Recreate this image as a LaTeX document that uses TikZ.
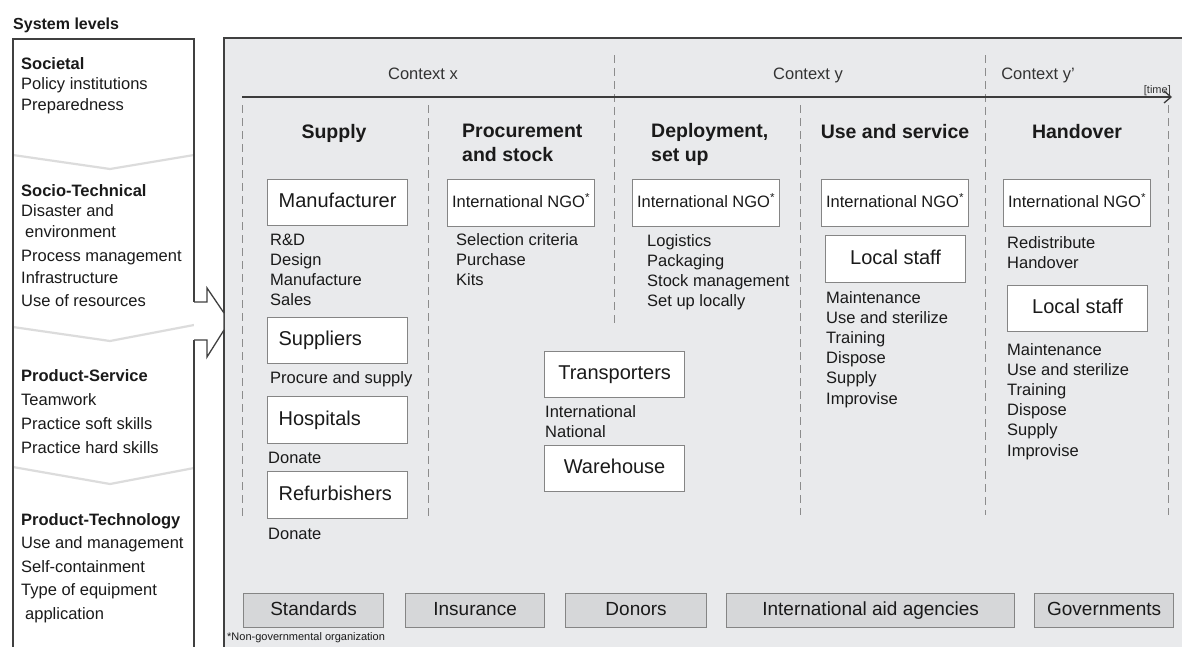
\documentclass[tikz,border=0pt]{standalone}
\usepackage{fontspec}
\setmainfont{Liberation Sans}
\usetikzlibrary{arrows.meta}
\definecolor{panelc}{HTML}{E9EAEC}
\definecolor{framec}{HTML}{404040}
\definecolor{boxc}{HTML}{858585}
\definecolor{gboxc}{HTML}{D6D7D9}
\definecolor{txt}{HTML}{1A1A1A}
\definecolor{ctxc}{HTML}{333333}
\definecolor{dashc}{HTML}{8C8C8C}
\definecolor{chevc}{HTML}{DCDCDC}
\definecolor{arrowc}{HTML}{3C3C3C}
\newcommand\ftBody{\fontsize{16.5}{20.2}\selectfont}
\newcommand\ftBox{\fontsize{20}{24}\selectfont}
\newcommand\ftHead{\fontsize{19.5}{24}\selectfont\bfseries}
\newcommand\ftBot{\fontsize{19}{22}\selectfont}
\tikzset{
  frame/.style={draw=framec, line width=1.3pt},
  wbox/.style={draw=boxc, fill=white, line width=1.2pt, inner sep=0pt, anchor=north west, font=\ftBox, text=txt, text height=14.5pt, text depth=4pt},
  lbox/.style={minimum height=46pt, text width=118pt, inner xsep=11pt, align=left},
  cbox/.style={minimum width=140pt, minimum height=46pt},
  ngo/.style={minimum width=147pt, minimum height=47pt, font=\ftBody, text height=12pt, text depth=3.5pt},
  gbox/.style={draw=boxc, fill=gboxc, line width=1.2pt, inner sep=0pt, anchor=north west, font=\ftBot, text=txt, minimum height=34pt, text height=14pt, text depth=4pt},
  lst/.style={anchor=base west, align=left, inner sep=0pt, font=\ftBody, text=txt},
  hdr/.style={anchor=base, inner sep=0pt, font=\ftHead, text=txt},
  hdrl/.style={anchor=base west, align=left, inner sep=0pt, font=\ftHead, text=txt},
  ctx/.style={anchor=base, inner sep=0pt, font=\ftBody, text=ctxc},
  divider/.style={draw=dashc, line width=1pt, dash pattern=on 8pt off 5pt},
  timeline/.style={draw=arrowc, line width=1.8pt, -{Straight Barb[length=7pt,width=12pt,line width=1.3pt]}},
  chev/.style={draw=chevc, line width=2.2pt},
}
\begin{document}
\begin{tikzpicture}[x=1pt,y=-1pt]
\useasboundingbox (0,0) rectangle (1182,646);
\fill[white] (0,0) rectangle (1182,646);

% ---------- left panel ----------
\fill[white] (13,39) rectangle (194,650);
\draw[chev] (13,155) -- (110,169) -- (194,155);
\draw[chev] (13,327) -- (110,341) -- (194,325);
\draw[chev] (13,467) -- (110,484) -- (194,468);
\draw[frame] (194,302) -- (194,39) -- (13,39) -- (13,650);
\draw[frame] (194,340) -- (194,650);

\node[anchor=base west, inner sep=0pt, font=\fontsize{16}{18}\selectfont\bfseries, text=txt] (syslev) at (13,29) {System levels};

% (multi-line nodes: base anchor = baseline of the last line)
\node[lst, font=\fontsize{16.5}{20.5}\selectfont] (soc) at (21,110)
  {\textbf{Societal}\\Policy institutions\\Preparedness};
\node[lst, font=\fontsize{16.5}{20.5}\selectfont] (soct) at (21,306)
  {\textbf{Socio-Technical}\\Disaster and\\\hspace{4pt}environment\\[3.5pt]Process management\\[1.5pt]Infrastructure\\[2.5pt]Use of resources};
\node[lst, font=\fontsize{16.5}{24}\selectfont] (prs) at (21,453)
  {\textbf{Product-Service}\\Teamwork\\Practice soft skills\\Practice hard skills};
\node[lst, font=\fontsize{16.5}{23.5}\selectfont] (prt) at (21,619)
  {\textbf{Product-Technology}\\Use and management\\Self-containment\\Type of equipment\\\hspace{4pt}application};

% ---------- main panel ----------
\draw[frame, fill=panelc] (224,38) rectangle (1190,650);
\draw[frame, fill=white] (194,302) -- (207,302) -- (207,288) -- (224,313) -- (224,330) -- (207,357) -- (207,340) -- (194,340);

% dividers
\draw[divider] (614,55) -- (614,323);
\draw[divider] (985,55) -- (985,515);
\draw[divider] (242,105) -- (242,520);
\draw[divider] (428,105) -- (428,518);
\draw[divider] (800,105) -- (800,515);
\draw[divider] (1168,105) -- (1168,515);

% context and time
\node[ctx] (cx) at (423,79) {Context x};
\node[ctx] (cy) at (808,79) {Context y};
\node[ctx] (cyp) at (1038,79) {Context y'};
\node[anchor=base east, inner sep=0pt, font=\fontsize{11}{12}\selectfont, text=ctxc] (time) at (1171,93) {[time]};
\coordinate (tA) at (242,97);
\coordinate (tB) at (1172,97);
\draw[timeline] (tA) -- (tB);

% headers
\node[hdr] (hsup) at (334,138) {Supply};
\node[hdrl] (hpro) at (462,161) {Procurement\\and stock};
\node[hdrl] (hdep) at (651,161) {Deployment,\\set up};
\node[hdr] (huse) at (895,138) {Use and service};
\node[hdr] (hhan) at (1077,138) {Handover};

% supply column
\node[wbox, cbox] (manu) at (267,179) {Manufacturer};
\node[lst] (manul) at (270,305.6) {R\&D\\Design\\Manufacture\\Sales};
\node[wbox, lbox] (supp) at (267,317) {Suppliers};
\node[lst] (suppl) at (270,383) {Procure and supply};
\node[wbox, lbox, minimum height=47pt] (hosp) at (267,396) {Hospitals};
\node[lst] (hospl) at (268,463) {Donate};
\node[wbox, lbox, minimum height=47pt] (refu) at (267,471) {Refurbishers};
\node[lst] (refl) at (268,539) {Donate};

% procurement column
\node[wbox, ngo] (ngo1) at (447,179) {International NGO\textsuperscript{*}};
\node[lst] (ngo1l) at (456,285.4) {Selection criteria\\Purchase\\Kits};
\node[wbox, cbox] (trans) at (544,351) {Transporters};
\node[lst] (transl) at (545,437.2) {International\\National};
\node[wbox, cbox] (ware) at (544,445) {Warehouse};

% deployment column
\node[wbox, ngo] (ngo2) at (632,179) {International NGO\textsuperscript{*}};
\node[lst] (ngo2l) at (647,306.6) {Logistics\\Packaging\\Stock management\\Set up locally};

% use and service column
\node[wbox, ngo] (ngo3) at (821,179) {International NGO\textsuperscript{*}};
\node[wbox, cbox, minimum height=47pt] (ls1) at (825,235) {Local staff};
\node[lst] (ls1l) at (826,404) {Maintenance\\Use and sterilize\\Training\\Dispose\\Supply\\Improvise};

% handover column
\node[wbox, ngo] (ngo4) at (1003,179) {International NGO\textsuperscript{*}};
\node[lst] (ngo4l) at (1007,268.2) {Redistribute\\Handover};
\node[wbox, cbox, minimum width=140pt] (ls2) at (1007,285) {Local staff};
\node[lst] (ls2l) at (1007,456) {Maintenance\\Use and sterilize\\Training\\Dispose\\Supply\\Improvise};

% bottom row
\node[gbox, minimum width=140pt] (std) at (243,593) {Standards};
\node[gbox, minimum width=139pt] (ins) at (405,593) {Insurance};
\node[gbox, minimum width=141pt] (don) at (565,593) {Donors};
\node[gbox, minimum width=288pt] (iaa) at (726,593) {International aid agencies};
\node[gbox, minimum width=139pt] (gov) at (1034,593) {Governments};

\node[anchor=base west, inner sep=0pt, font=\fontsize{11}{12}\selectfont, text=txt] (foot) at (227,640) {*Non-governmental organization};
\end{tikzpicture}
\end{document}
